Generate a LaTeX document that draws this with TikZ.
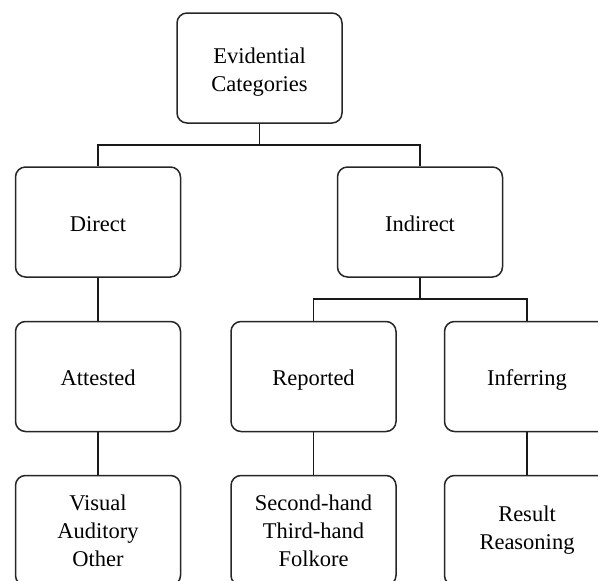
\documentclass[tikz,border=0pt]{standalone}
\usepackage{fontspec}
\setmainfont{Liberation Serif}
\begin{document}
\begin{tikzpicture}[x=1pt,y=-1pt,
  catbox/.style={draw=black!85, line width=1.5pt, rounded corners=10pt, minimum width=165pt, minimum height=110pt, align=center, inner sep=0pt, font=\fontsize{22.5}{28}\selectfont},
  oneline/.style={catbox, text height=19pt, text depth=1pt},
  link/.style={draw=black!90, line width=1.5pt}]
\useasboundingbox (0,0) rectangle (598,581);
\node[catbox] (top) at (259.5,68) {\rule{0pt}{23pt}Evidential\\Categories};
\node[oneline] (direct) at (98,222) {Direct};
\node[oneline] (indirect) at (420,222) {Indirect};
\node[oneline] (attested) at (98,376.5) {Attested};
\node[oneline] (reported) at (313.5,376.5) {Reported};
\node[oneline] (inferring) at (527,376.5) {Inferring};
\node[catbox] (visual) at (98,530.5) {Visual\\Auditory\\Other};
\node[catbox] (second) at (313.5,530.5) {Second-hand\\Third-hand\\Folkore};
\node[catbox] (result) at (527,530.5) {Result\\Reasoning};
\draw[link] (top.south) -- ++(0,21) -| (direct.north);
\draw[link] (top.south) -- ++(0,21) -| (indirect.north);
\draw[link] (direct.south) -- (attested.north);
\draw[link] (attested.south) -- (visual.north);
\draw[link] (indirect.south) -- ++(0,21) -| (reported.north);
\draw[link] (indirect.south) -- ++(0,21) -| (inferring.north);
\draw[link] (reported.south) -- (second.north);
\draw[link] (inferring.south) -- (result.north);
\end{tikzpicture}
\end{document}
